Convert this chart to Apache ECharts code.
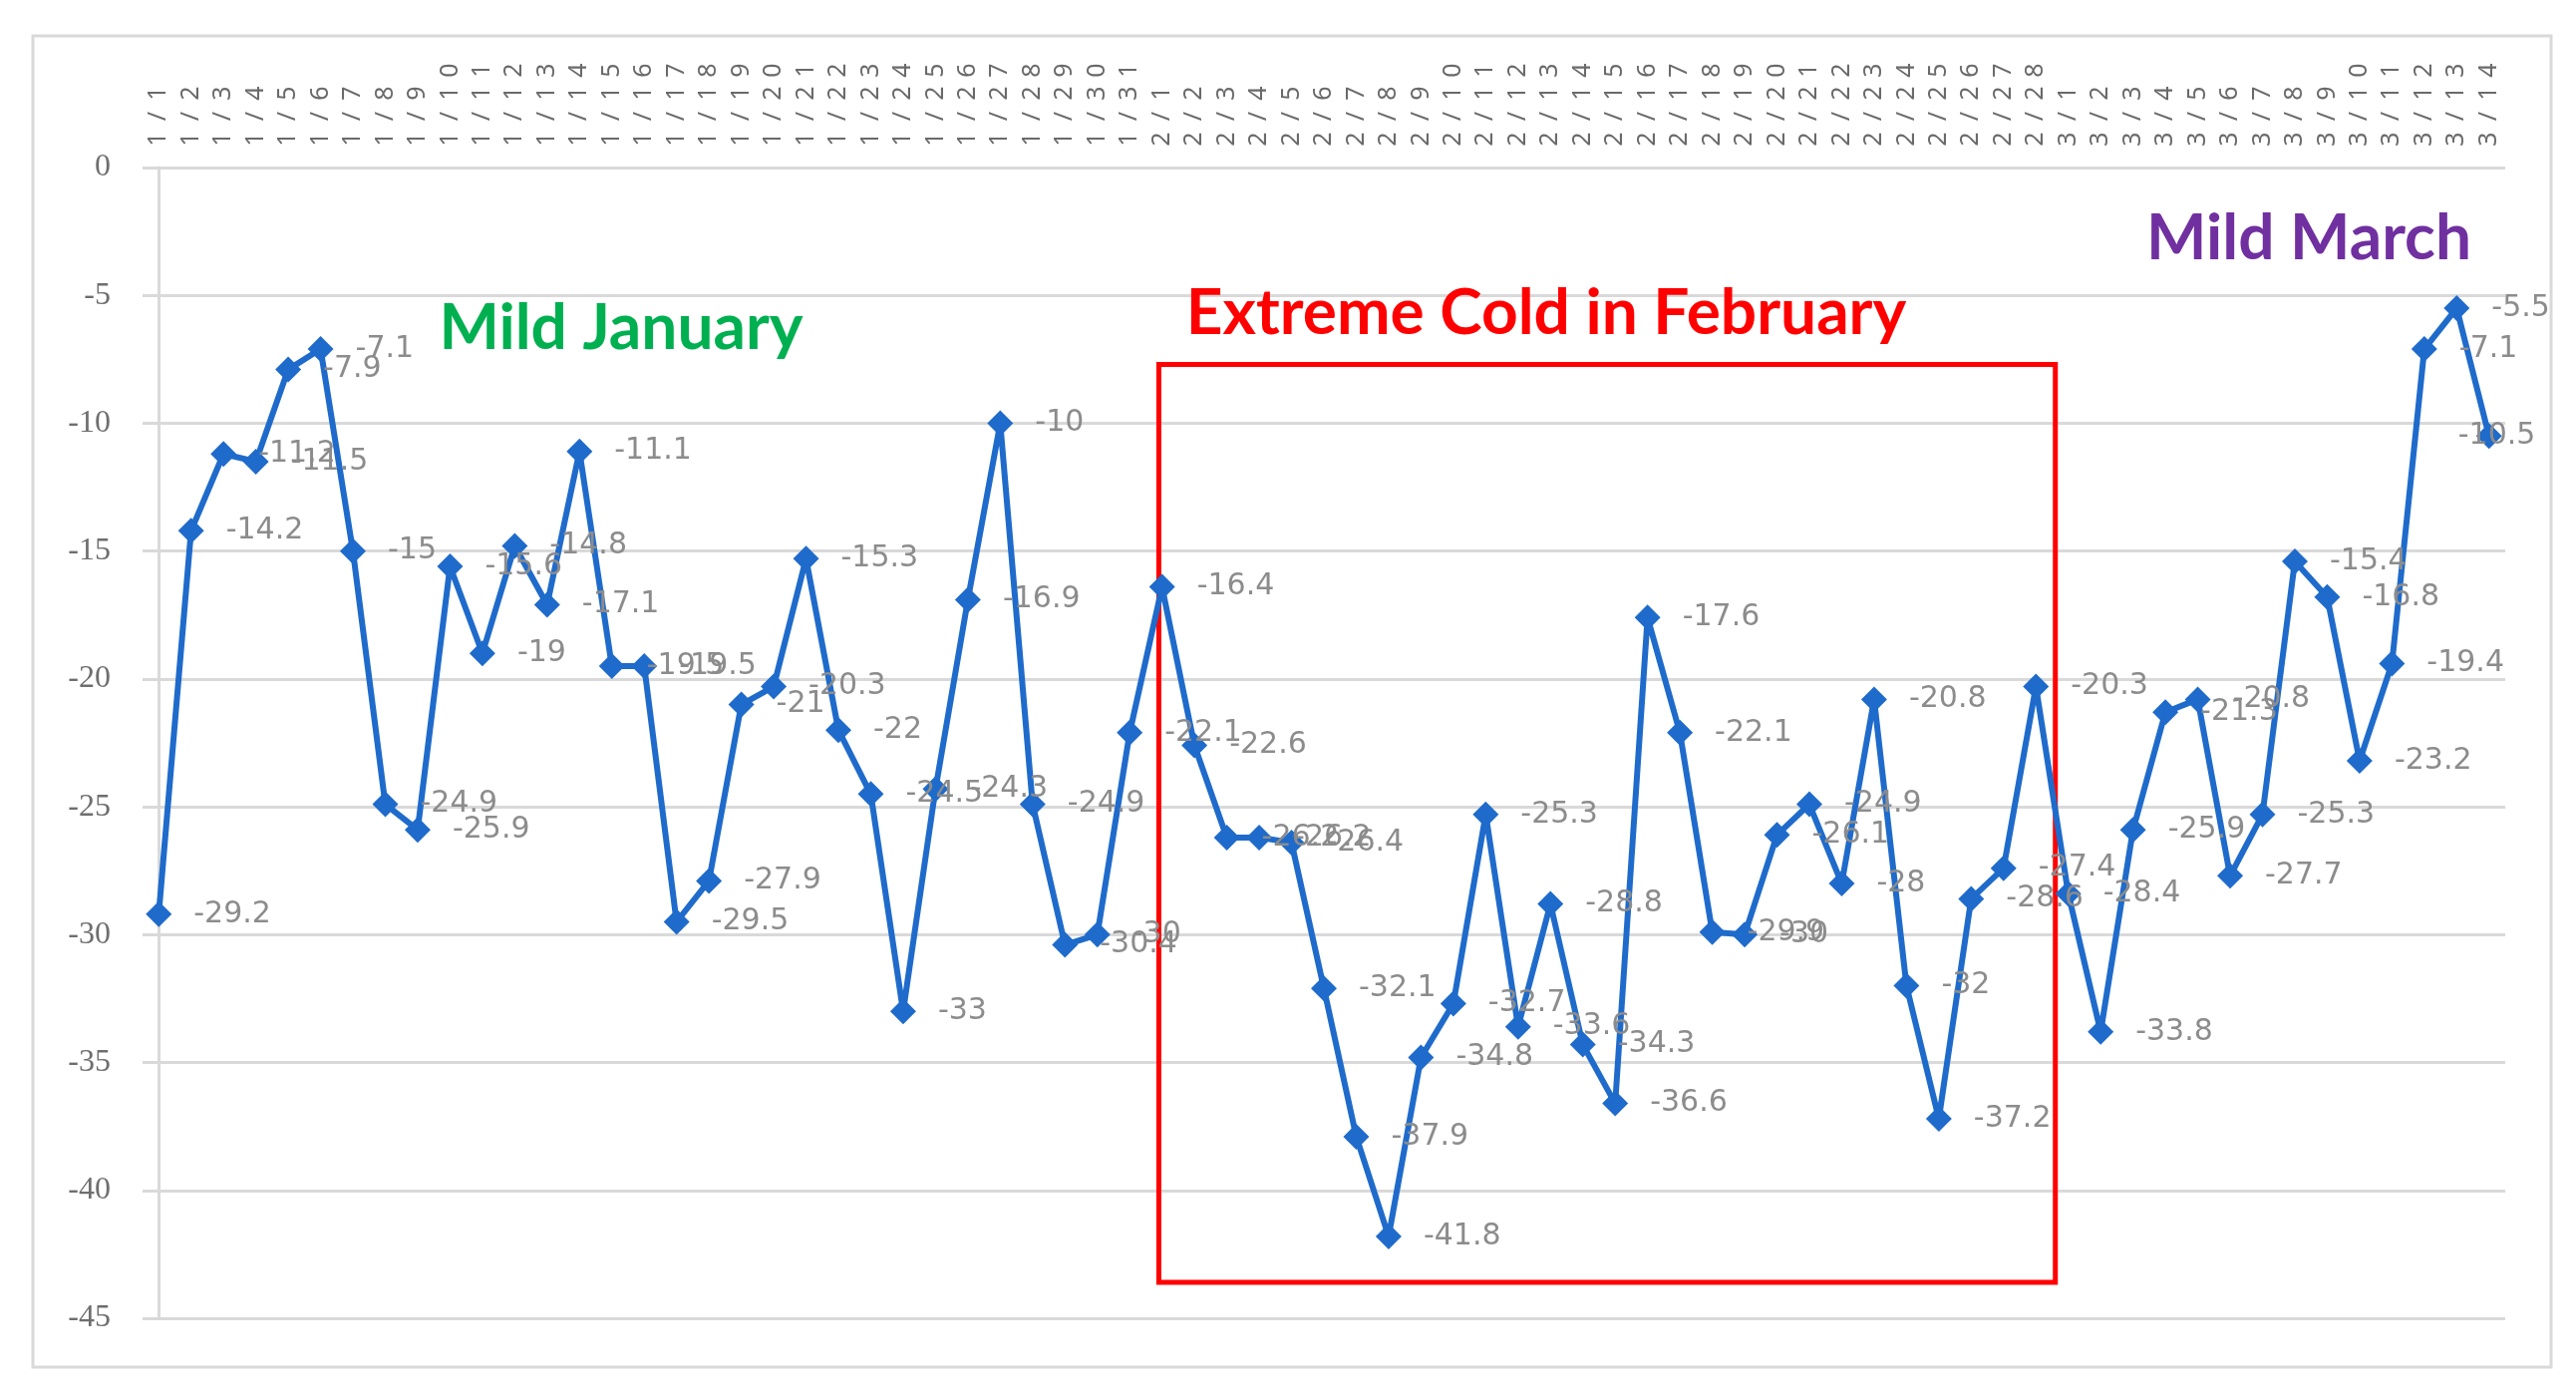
<!DOCTYPE html>
<html>
<head>
<meta charset="utf-8">
<script src="https://cdn.jsdelivr.net/npm/echarts@6/dist/echarts.min.js"></script>
<style>
html,body{margin:0;padding:0;background:#fff;}
#chart{width:2584px;height:1402px;}
</style>
</head>
<body>
<div id="chart"></div>
<script>
// ---- data ----
const janDays = ['1/1','1/2','1/3','1/4','1/5','1/6','1/7','1/8','1/9','1/10','1/11','1/12','1/13','1/14','1/15','1/16','1/17','1/18','1/19','1/20','1/21','1/22','1/23','1/24','1/25','1/26','1/27','1/28','1/29','1/30','1/31'];
const febDays = ['2/1','2/2','2/3','2/4','2/5','2/6','2/7','2/8','2/9','2/10','2/11','2/12','2/13','2/14','2/15','2/16','2/17','2/18','2/19','2/20','2/21','2/22','2/23','2/24','2/25','2/26','2/27','2/28'];
const marDays = ['3/1','3/2','3/3','3/4','3/5','3/6','3/7','3/8','3/9','3/10','3/11','3/12','3/13','3/14'];

const janValues = [-29.2,-14.2,-11.2,-11.5,-7.9,-7.1,-15,-24.9,-25.9,-15.6,-19,-14.8,-17.1,-11.1,-19.5,-19.5,-29.5,-27.9,-21,-20.3,-15.3,-22,-24.5,-33,-24.3,-16.9,-10,-24.9,-30.4,-30,-22.1];
const febValues = [-16.4,-22.6,-26.2,-26.2,-26.4,-32.1,-37.9,-41.8,-34.8,-32.7,-25.3,-33.6,-28.8,-34.3,-36.6,-17.6,-22.1,-29.9,-30,-26.1,-24.9,-28,-20.8,-32,-37.2,-28.6,-27.4,-20.3];
const marValues = [-28.4,-33.8,-25.9,-21.3,-20.8,-27.7,-25.3,-15.4,-16.8,-23.2,-19.4,-7.1,-5.5,-10.5];

const yTicks = [0,-5,-10,-15,-20,-25,-30,-35,-40,-45];

// February box (in category-index / value units)
const febBox = {xFrom: 30.9, xTo: 58.6, yFrom: -7.7, yTo: -43.6};

const annotations = [
  {text:'Mild January', color:'#00b050'},
  {text:'Extreme Cold in February', color:'#ff0000'},
  {text:'Mild March', color:'#7030a0'}
];

const categories = janDays.concat(febDays, marDays);
const values = janValues.concat(febValues, marValues);

// last label is kept inside the chart frame (pulled left)
const seriesData = values.map(function(v, i){
  if (i === values.length - 1) return {value: v, label: {offset: [-66, 0]}};
  return v;
});

const chart = echarts.init(document.getElementById('chart'));
const annPos = [[623,329],[1551,314],[2316,239]];

const option = {
  backgroundColor:'#ffffff',
  animation:false,
  grid:{left:143,right:71,top:168,bottom:80},
  xAxis:[{
    type:'category',
    data:categories,
    position:'top',
    boundaryGap:true,
    axisLine:{show:false},
    axisTick:{show:false},
    axisLabel:{
      interval:0,rotate:90,margin:17,
      formatter:function(v){return v.split('').map(function(c){return '{c|'+c+'}';}).join('');},
      rich:{c:{width:23,align:'center',color:'#6a6a6a',fontSize:25,fontFamily:'Noto Sans'}}
    }
  },{
    type:'value',
    min:-0.5,max:categories.length-0.5,
    show:false
  }],
  yAxis:{
    type:'value',
    min:Math.min(...yTicks),max:Math.max(...yTicks),interval:5,
    axisLine:{show:true,lineStyle:{color:'#d9d9d9',width:3}},
    axisTick:{show:false},
    splitLine:{show:true,lineStyle:{color:'#d9d9d9',width:3}},
    axisLabel:{color:'#6e6e6e',fontSize:32,fontFamily:'Liberation Sans Narrow',margin:32}
  },
  series:[{
    type:'line',
    data:seriesData,
    symbol:'diamond',
    symbolSize:26,
    lineStyle:{color:'#1f6bcb',width:6},
    itemStyle:{color:'#1f6bcb'},
    label:{show:true,position:'right',distance:22,color:'#8c8c8c',fontSize:30,fontFamily:'DejaVu Sans'},
    z:3
  },{
    type:'scatter',
    xAxisIndex:1,
    data:[],
    silent:true,
    markArea:{
      silent:true,
      itemStyle:{color:'rgba(0,0,0,0)',borderColor:'#ff0000',borderWidth:5},
      data:[[{coord:[febBox.xFrom,febBox.yFrom]},{coord:[febBox.xTo,febBox.yTo]}]]
    }
  }],
  graphic:[
    {type:'rect',shape:{x:33,y:36,width:2526,height:1335},style:{fill:'none',stroke:'#d9d9d9',lineWidth:3},silent:true,z:-1}
  ].concat(annotations.map((a,i)=>({
    type:'text',x:annPos[i][0],y:annPos[i][1],
    style:{text:a.text,fill:a.color,font:'bold 64px Lato',textAlign:'center',textVerticalAlign:'middle'},
    z:10
  })))
};
chart.setOption(option);
</script>
</body>
</html>
